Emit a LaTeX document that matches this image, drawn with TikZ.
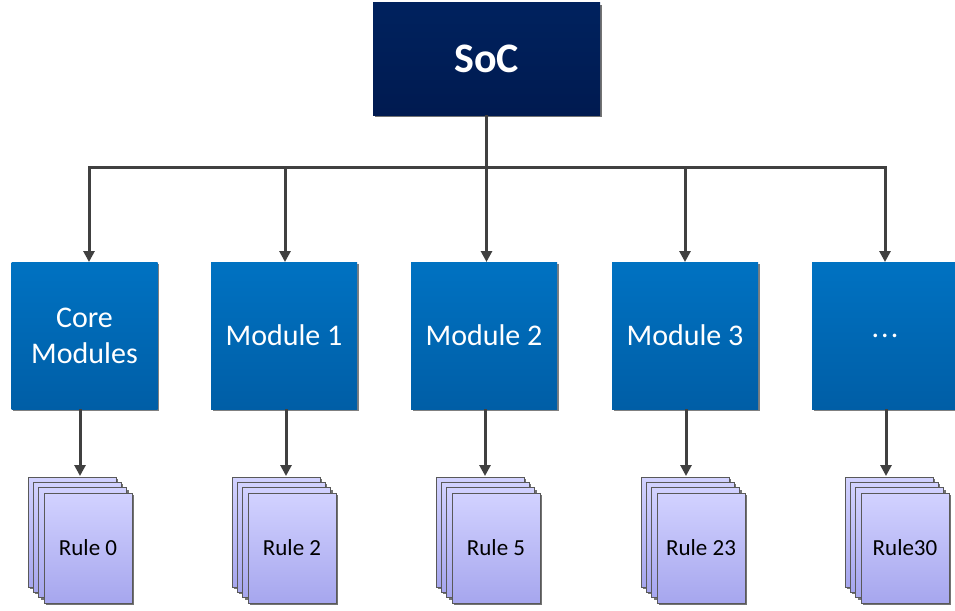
\documentclass[tikz,border=0pt]{standalone}
\usepackage{fontspec}
\setmainfont{Carlito}
\usetikzlibrary{arrows.meta,shadows}
\definecolor{navytop}{HTML}{00225E}
\definecolor{navybot}{HTML}{001A50}
\definecolor{bluetop}{HTML}{0072C2}
\definecolor{bluebot}{HTML}{005EA6}
\definecolor{pagetop}{HTML}{D2D2FF}
\definecolor{pagebot}{HTML}{A6A6EE}
\definecolor{linegray}{HTML}{404040}
\tikzset{
  socbox/.style={rectangle, minimum width=227pt, minimum height=112pt, inner sep=0pt,
    top color=navytop, bottom color=navybot, draw=none,
    drop shadow={shadow xshift=2pt, shadow yshift=-2pt, fill=black!55, opacity=1},
    text=white, font=\fontsize{42}{50}\selectfont\bfseries},
  modbox/.style={rectangle, minimum width=146pt, minimum height=147pt, inner sep=0pt,
    top color=bluetop, bottom color=bluebot, draw=none,
    drop shadow={shadow xshift=1.5pt, shadow yshift=-1.5pt, fill=black!50, opacity=1},
    text=white, align=center, font=\fontsize{30}{36}\selectfont},
  pagebox/.style={rectangle, minimum width=88pt, minimum height=110pt, inner sep=0pt,
    top color=pagetop, bottom color=pagebot, draw=black!65, line width=1pt,
    drop shadow={shadow xshift=2pt, shadow yshift=-2pt, fill=black!55, opacity=1},
    text=black, font=\fontsize{23}{27}\selectfont},
  conn/.style={draw=linegray, line width=3pt},
  arr/.style={conn, -{Triangle[length=11pt,width=11pt]}},
}
\begin{document}
\begin{tikzpicture}[x=1pt,y=-1pt]
\useasboundingbox (0,0) rectangle (955,610);
\fill[white] (0,0) rectangle (955,610);

\node[socbox] (soc) at (486.5,59) {SoC};

\node[modbox] (core) at (84.5,335.5) {Core\\Modules};
\node[modbox] (m1) at (284,335.5) {Module 1};
\node[modbox] (m2) at (484,335.5) {Module 2};
\node[modbox] (m3) at (685,335.5) {Module 3};
\node[modbox] (m4) at (885,335.5) {.\kern2pt.\kern2pt.};

% bus
\coordinate (bus) at (486.5,167);
\coordinate (t0) at (89,262);
\coordinate (t1) at (285,262);
\coordinate (t2) at (486.5,262);
\coordinate (t3) at (685,262);
\coordinate (t4) at (885,262);
\draw[conn] (soc.south) -- (bus);
\foreach \t in {t0,t1,t2,t3,t4} {
  \draw[arr] (bus) -| (\t);
}

% rule stacks
\foreach \name/\left/\ax/\lab in {r0/44/80/Rule 0, r1/248/286/Rule 2, r2/452/485/Rule 5, r3/657/686/Rule 23, r4/861/886/Rule30} {
  \foreach \k/\off in {a/16, b/10.67, c/5.33} {
    \node[pagebox] (\name\k) at ({\left+44-\off},{548-\off}) {};
  }
  \node[pagebox] (\name d) at ({\left+44},548) {\lab};
  \coordinate (\name top) at (\ax,476);
}
\draw[arr] (core.south -| r0top) -- (r0top);
\draw[arr] (m1.south -| r1top) -- (r1top);
\draw[arr] (m2.south -| r2top) -- (r2top);
\draw[arr] (m3.south -| r3top) -- (r3top);
\draw[arr] (m4.south -| r4top) -- (r4top);
\end{tikzpicture}
\end{document}
